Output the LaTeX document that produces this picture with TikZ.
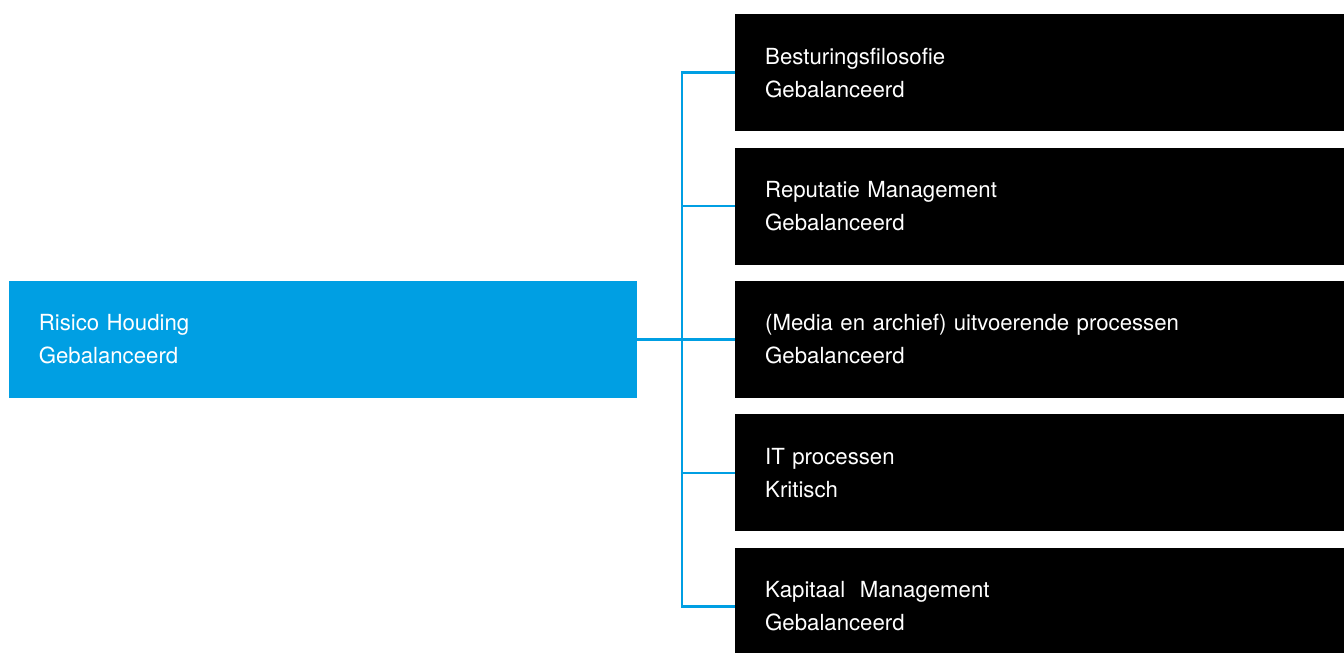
\documentclass[tikz,border=0pt]{standalone}
\usepackage{fontspec}
\setmainfont{TeX Gyre Heros}
\usetikzlibrary{positioning}

\definecolor{riskblue}{HTML}{009FE3}

\begin{document}
\begin{tikzpicture}[node distance=16pt]

	\tikzstyle{box}=[rectangle, inner xsep=30pt, inner ysep=0pt, align=left, font=\fontsize{22.2}{33}\selectfont]
	\tikzstyle{area}=[box, fill=black, text=white, text width=549pt, minimum width=609pt, minimum height=117pt]
	\tikzstyle{risk}=[box, fill=riskblue, text=white, text width=568pt, minimum width=628pt, minimum height=117pt]

	\tikzstyle{branch}=[draw=riskblue, line width=2.6pt]

	\useasboundingbox (0,0) rectangle (1344pt,653pt);

	% right column
	\node[area, anchor=north west] (bes) at (735pt,639pt) {Besturingsfilosofie\\Gebalanceerd};
	\node[area, below=of bes] (rep) {Reputatie Management\\Gebalanceerd};
	\node[area, below=of rep] (med) {(Media en archief) uitvoerende processen\\Gebalanceerd};
	\node[area, below=of med] (itp) {IT processen\\Kritisch};
	\node[area, below=of itp] (kap) {Kapitaal\ \ Management\\Gebalanceerd};

	% left
	\node[risk, left=98pt of med] (hou) {Risico Houding\\Gebalanceerd};

	% connectors
	\coordinate[right=45pt of hou.east] (spine);

	\draw[branch] (hou.east) -- (spine);
	\draw[branch] (bes.west) -- (spine |- bes.west) -- (spine |- kap.west) -- (kap.west);
	\foreach \n in {rep, med, itp}
		\draw[branch] (spine |- \n.west) -- (\n.west);

\end{tikzpicture}
\end{document}
